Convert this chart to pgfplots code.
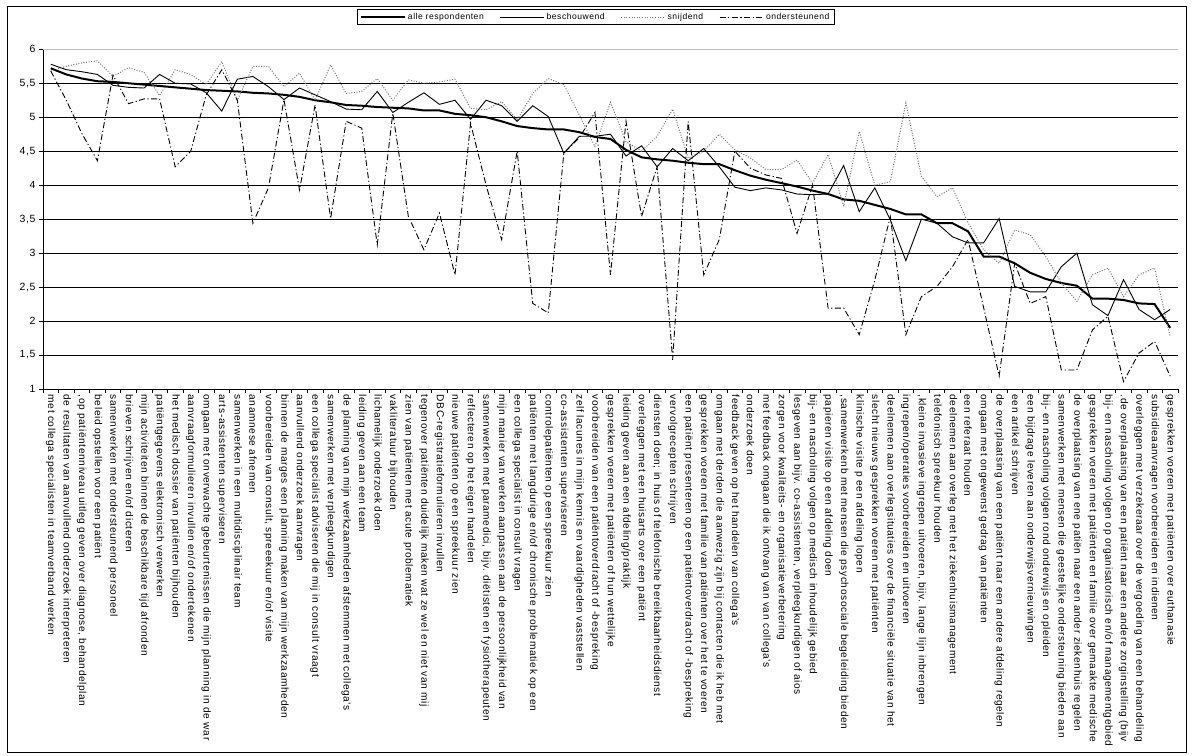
\documentclass[border=0pt]{standalone}
\usepackage{fontspec}
\setmainfont{Liberation Sans}[LetterSpace=6]
\usepackage{pgfplots}
\usepackage{pgfplotstable}
\pgfplotsset{compat=1.18}

\pgfplotstableread{
x a b s o
0 5.72 5.78 5.68 5.68
1 5.63 5.70 5.75 5.25
2 5.57 5.67 5.80 4.76
3 5.53 5.63 5.83 4.36
4 5.52 5.47 5.60 5.62
5 5.50 5.44 5.73 5.20
6 5.48 5.43 5.66 5.27
7 5.46 5.63 5.32 5.27
8 5.44 5.50 5.70 4.27
9 5.42 5.49 5.63 4.50
10 5.40 5.36 5.48 5.33
11 5.39 5.09 5.82 5.70
12 5.38 5.56 5.25 5.25
13 5.36 5.60 5.75 3.44
14 5.35 5.45 5.75 3.96
15 5.33 5.26 5.45 5.26
16 5.30 5.43 5.65 3.93
17 5.25 5.33 5.25 5.18
18 5.22 5.23 5.77 3.51
19 5.18 5.12 5.35 4.94
20 5.17 5.11 5.38 4.84
21 5.15 5.38 5.57 3.12
22 5.14 5.07 5.25 5.06
23 5.13 5.22 5.55 3.54
24 5.10 5.36 5.50 3.05
25 5.10 5.19 5.52 3.59
26 5.05 5.25 5.56 2.68
27 5.03 4.97 5.13 4.91
28 5.00 5.25 5.11 4.00
29 4.94 5.17 5.23 3.20
30 4.87 4.94 4.96 4.50
31 4.84 5.17 5.35 2.26
32 4.82 5.01 5.57 2.12
33 4.82 4.47 5.48 4.47
34 4.78 4.72 5.03 4.70
35 4.71 4.72 4.57 5.07
36 4.68 4.75 5.22 2.68
37 4.52 4.43 4.64 4.94
38 4.41 4.58 4.50 3.54
39 4.38 4.27 4.72 4.27
40 4.36 4.54 5.12 1.43
41 4.33 4.36 4.40 4.94
42 4.31 4.54 4.50 2.68
43 4.31 4.27 4.75 3.20
44 4.22 3.97 4.52 4.50
45 4.14 3.92 4.40 4.25
46 4.08 3.96 4.23 4.15
47 4.03 3.93 4.23 4.10
48 3.98 3.87 4.37 3.29
49 3.92 3.86 4.03 4.00
50 3.87 3.87 4.45 2.19
51 3.79 4.29 3.69 2.19
52 3.77 3.61 4.79 1.80
53 3.71 3.96 4.00 2.60
54 3.65 3.49 4.05 3.54
55 3.57 2.89 5.21 1.80
56 3.57 3.50 4.13 2.36
57 3.44 3.44 3.83 2.51
58 3.44 3.24 3.96 2.80
59 3.32 3.15 3.45 3.20
60 2.95 3.15 3.05 2.20
61 2.95 3.51 2.85 1.19
62 2.85 2.51 3.34 2.85
63 2.71 2.43 3.27 2.26
64 2.62 2.43 2.95 2.36
65 2.56 2.80 2.56 1.28
66 2.52 3.00 2.29 1.28
67 2.33 2.24 2.68 1.87
68 2.33 2.08 2.78 2.07
69 2.31 2.61 2.36 1.11
70 2.26 2.17 2.68 1.53
71 2.25 2.02 2.78 1.70
72 1.90 2.17 1.77 1.19
}\data

\begin{document}
\begin{tikzpicture}[x=1bp,y=1bp]
\begin{axis}[
  at={(0,0)}, anchor=south west,
  scale only axis, width=1135bp, height=339.7bp,
  xmin=-0.5, xmax=72.5, ymin=1, ymax=6,
  axis x line*=bottom, axis y line*=left,
  axis line style={-, black, line width=0.6bp},
  tick align=outside, major tick length=4bp,
  tick style={black, line width=0.6bp},
  ytick={1,1.5,...,5.5},
  extra y ticks={6},
  extra y tick style={grid style={black!25, line width=0.8bp}},
  ymajorgrids,
  grid style={black, line width=0.6bp},
  xtick={-0.5,0.5,...,72.5},
  x tick label as interval,
  xticklabels={
{met collega specialisten in teamverband werken},
{de resultaten van aanvullend onderzoek interpreteren},
{,op patiëntenniveau uitleg geven over diagnose, behandelplan},
{beleid opstellen voor een patiënt},
{samenwerken met ondersteunend personeel},
{brieven schrijven en/of dicteren},
{mijn activiteiten binnen de beschikbare tijd afronden},
{patiëntgegevens elektronisch verwerken},
{het medisch dossier van patiënten bijhouden},
{aanvraagformulieren invullen en/of ondertekenen},
{omgaan met onverwachte gebeurtenissen die mijn planning in de war},
{arts-assistenten superviseren},
{samenwerken in een multidisciplinair team},
{anamnese afnemen},
{voorbereiden van consult, spreeekuur en/of visite},
{binnen de marges een planning maken van mijn werkzaamheden},
{aanvullend onderzoek aanvragen},
{een collega specialist adviseren die mij in consult vraagt},
{samenwerken met verpleegkundigen},
{de planning van mijn werkzaamheden afstemmen met collega's},
{leiding geven aan een team},
{lichamelijk onderzoek doen},
{vakliteratuur bijhouden},
{zien van patiënten met acute problematiek},
{tegenover patiënten duidelijk maken wat ze wel en niet van mij},
{DBC-registratieformulieren invullen},
{nieuwe patiënten op een spreekuur zien},
{reflecteren op het eigen handelen},
{samenwerken met paramedici, bijv. diëtisten en fysiotherapeuten},
{mijn manier van werken aanpassen aan de persoonlijkheid van},
{een collega specialist in consult vragen},
{patiënten met langdurige en/of chronische problematiek op een},
{controlepatiënten op een spreekuur zien},
{co-assistenten superviseren},
{zelf lacunes in mijn kennis en vaardigheden vaststellen},
{voorbereiden van een patiëntoverdracht of -bespreking},
{gesprekken voeren met patiënten of hun wettelijke},
{leiding geven aan een afdeling/praktijk},
{overleggen met een huisarts over een patiënt},
{diensten doen; in huis of telefonische bereikbaarheidsdienst},
{vervolgrecepten schrijven},
{een patiënt presenteren op een patiëntoverdracht of -bespreking},
{gesprekken voeren met familie van patiënten over het te voeren},
{omgaan met derden die aanwezig zijn bij contacten die ik heb met},
{feedback geven op het handelen van collega's},
{onderzoek doen},
{met feedback omgaan die ik ontvang van van collega's},
{zorgen voor kwaliteits- en organisatieverbetering},
{lesgeven aan bijv. co-assistenten, verpleegkundigen of aios},
{bij- en nascholing volgen op medisch inhoudelijk gebied},
{papieren visite op een afdeling doen},
{,samenwerkenb met mensen die psychosociale begeleiding bieden},
{klinische visite p een afdeling lopen},
{slecht nieuws gesprekken voeren met patiënten},
{deelnemen aan overlegsituaties over de financiële situatie van het},
{ingrepen/operaties voorbereiden en uitvoeren},
{,kleine invasieve ingrepen uitvoeren, bijv. lange lijn inbrengen},
{telefonisch spreekuur houden},
{deelnemen aan overleg met het ziekenhuismanagement},
{een referaat houden},
{omgaan met ongewenst gedrag van patiënten},
{de overplaatsing van een patiënt naar een andere afdeling regelen},
{een artikel schrijven},
{een bijdrage leveren aan onderwijsvernieuwingen},
{bij- en nascholing volgen rond onderwijs en opleiden},
{samenwerken met mensen die geestelijke ondersteuning bieden aan},
{de overplaatsing van ene patiën naar een ander ziekenhuis regelen},
{gesprekken voeren met patiënten en familie over gemaakte medische},
{bij- en nascholing volgen op organisatorisch en/of managementgebied},
{.de overplaatsing van een patiënt naar een andere zorginstelling (bijv},
{overleggen met verzekeraar over de vergoeding van een behandeling},
{subsidieaanvragen voorbereiden en indienen},
{gesprekken voeren met patiënten over euthanasie}
  },
  xticklabel style={rotate=-90, anchor=west, font=\fontsize{10.2}{11}\selectfont, inner sep=1.5bp},
  yticklabel style={font=\fontsize{10.5}{11}\selectfont},
  /pgf/number format/.cd, use comma, assume math mode=true,
  /pgfplots/.cd,
  legend columns=4,
  legend style={at={(0.487,1.095)}, anchor=center, draw=black, line width=0.6bp,
    font=\fontsize{8.6}{9}\selectfont, inner xsep=3bp, inner ysep=1.8bp,
    /tikz/every even column/.append style={column sep=14bp}},
  legend image code/.code={\draw[#1] (0bp,0bp) -- (44bp,0bp);},
]
\addplot[black, line width=2bp] table[x=x,y=a] {\data};
\addlegendentry{alle respondenten}
\addplot[black, line width=0.9bp] table[x=x,y=b] {\data};
\addlegendentry{beschouwend}
\addplot[black!55, line width=1bp, dash pattern=on 1bp off 1.6bp] table[x=x,y=s] {\data};
\addlegendentry{snijdend}
\addplot[black, line width=0.9bp, dash pattern=on 6bp off 2.5bp on 1.2bp off 2.5bp] table[x=x,y=o] {\data};
\addlegendentry{ondersteunend}
\end{axis}
\draw[black, line width=0.8bp] (-36bp,-363bp) rectangle (1143bp,383bp);
\pgfresetboundingbox
\path[use as bounding box] (-43bp,-367bp) rectangle (1149bp,389bp);
\end{tikzpicture}
\end{document}
